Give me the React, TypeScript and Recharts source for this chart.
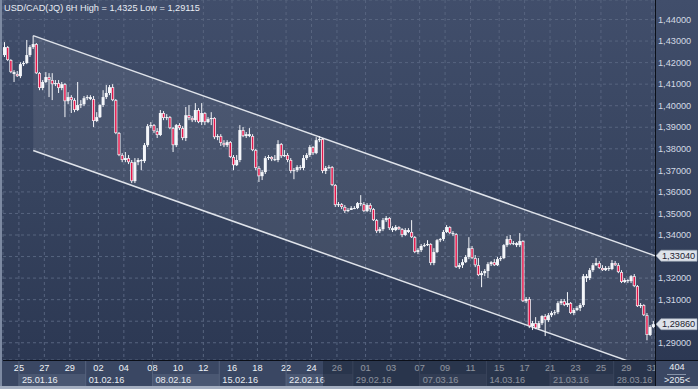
import React from 'react';
import { ComposedChart, Bar, Area, XAxis, YAxis, CartesianGrid, ReferenceLine } from 'recharts';

// ---- data (USD/CAD 6H candles) ----
const opens = [
  1.4235,1.4272,1.4212,1.4156,1.4147,1.4137,1.4193,1.4198,1.4235,1.4272,
  1.4286,1.4151,1.4082,1.4110,1.4133,1.4119,1.4100,1.4105,1.4082,1.4100,
  1.4021,1.4040,1.4026,1.3980,1.4003,1.4007,1.4035,1.4040,1.4031,1.3929,
  1.3947,1.4003,1.4040,1.4059,1.4086,1.4026,1.3873,1.3771,1.3748,1.3757,
  1.3738,1.3650,1.3738,1.3748,1.3743,1.3817,1.3905,1.3910,1.3882,1.3864,
  1.3966,1.3943,1.3947,1.3896,1.3817,1.3910,1.3896,1.3850,1.3956,1.3943,
  1.3933,1.3980,1.3924,1.3966,1.3924,1.3938,1.3943,1.3854,1.3859,1.3827,
  1.3817,1.3831,1.3762,1.3724,1.3748,1.3887,1.3859,1.3868,1.3859,1.3794,
  1.3711,1.3673,1.3692,1.3757,1.3762,1.3752,1.3748,1.3822,1.3766,1.3771,
  1.3748,1.3697,1.3701,1.3715,1.3711,1.3757,1.3771,1.3808,1.3780,1.3840,
  1.3845,1.3697,1.3711,1.3715,1.3632,1.3539,1.3543,1.3530,1.3511,1.3516,
  1.3525,1.3525,1.3548,1.3543,1.3511,1.3539,1.3520,1.3469,1.3418,1.3427,
  1.3469,1.3479,1.3432,1.3423,1.3437,1.3427,1.3400,1.3423,1.3414,1.3390,
  1.3321,1.3330,1.3349,1.3353,1.3358,1.3270,1.3321,1.3376,1.3381,1.3414,
  1.3437,1.3409,1.3404,1.3251,1.3260,1.3274,1.3298,1.3339,1.3293,1.3260,
  1.3214,1.3223,1.3233,1.3265,1.3274,1.3260,1.3288,1.3293,1.3353,1.3381,
  1.3358,1.3362,1.3353,1.3372,1.3093,1.3103,1.2977,1.2991,1.2968,1.2991,
  1.3024,1.3005,1.3028,1.3038,1.3042,1.3084,1.3093,1.3075,1.3084,1.3038,
  1.3052,1.3061,1.3075,1.3209,1.3200,1.3237,1.3260,1.3270,1.3247,1.3237,
  1.3247,1.3242,1.3270,1.3260,1.3228,1.3182,1.3191,1.3186,1.3209,1.3163,
  1.3070,1.3075,1.3028,1.2936,1.2973,
];
const highs = [
  1.4295,1.4277,1.4216,1.4165,1.4161,1.4202,1.4207,1.4305,1.4281,1.4325,
  1.4291,1.4156,1.4119,1.4156,1.4151,1.4151,1.4119,1.4119,1.4110,1.4105,
  1.4063,1.4049,1.4035,1.4110,1.4026,1.4045,1.4049,1.4049,1.4045,1.3970,
  1.4007,1.4072,1.4096,1.4096,1.4100,1.4031,1.3878,1.3780,1.3785,1.3771,
  1.3748,1.3757,1.3757,1.3752,1.3827,1.3915,1.3924,1.3915,1.3896,1.3980,
  1.3975,1.3961,1.3952,1.3901,1.3915,1.3919,1.3905,1.3994,1.4003,1.3952,
  1.4012,1.3989,1.4012,1.3970,1.3947,1.3970,1.3947,1.3868,1.3868,1.3840,
  1.3840,1.3836,1.3771,1.3771,1.3910,1.3901,1.3878,1.3896,1.3868,1.3799,
  1.3720,1.3701,1.3766,1.3771,1.3766,1.3771,1.3840,1.3827,1.3794,1.3780,
  1.3757,1.3711,1.3724,1.3724,1.3771,1.3780,1.3817,1.3813,1.3854,1.3859,
  1.3850,1.3720,1.3724,1.3720,1.3636,1.3553,1.3548,1.3539,1.3525,1.3534,
  1.3534,1.3553,1.3585,1.3553,1.3548,1.3548,1.3525,1.3474,1.3437,1.3479,
  1.3488,1.3483,1.3441,1.3446,1.3441,1.3432,1.3432,1.3432,1.3469,1.3395,
  1.3339,1.3358,1.3362,1.3376,1.3362,1.3339,1.3381,1.3386,1.3423,1.3446,
  1.3441,1.3418,1.3409,1.3270,1.3288,1.3307,1.3390,1.3349,1.3307,1.3293,
  1.3233,1.3242,1.3274,1.3279,1.3288,1.3298,1.3302,1.3358,1.3395,1.3400,
  1.3372,1.3367,1.3409,1.3376,1.3112,1.3112,1.3001,1.3019,1.3001,1.3028,
  1.3033,1.3038,1.3047,1.3052,1.3093,1.3103,1.3103,1.3135,1.3089,1.3061,
  1.3070,1.3084,1.3219,1.3219,1.3247,1.3270,1.3293,1.3279,1.3260,1.3256,
  1.3256,1.3284,1.3279,1.3270,1.3237,1.3200,1.3195,1.3214,1.3219,1.3168,
  1.3084,1.3079,1.3038,1.2982,1.3001,
];
const lows = [
  1.4226,1.4207,1.4151,1.4110,1.4133,1.4128,1.4184,1.4193,1.4226,1.4263,
  1.4147,1.4072,1.4072,1.4105,1.4040,1.4026,1.4091,1.4059,1.4072,1.3947,
  1.4007,1.3966,1.3970,1.3975,1.3989,1.3998,1.4026,1.4026,1.3901,1.3924,
  1.3943,1.3994,1.4031,1.4049,1.4021,1.3868,1.3766,1.3738,1.3738,1.3729,
  1.3641,1.3641,1.3724,1.3701,1.3734,1.3808,1.3896,1.3873,1.3850,1.3859,
  1.3933,1.3933,1.3891,1.3785,1.3808,1.3887,1.3840,1.3836,1.3933,1.3924,
  1.3924,1.3919,1.3910,1.3910,1.3919,1.3910,1.3845,1.3840,1.3813,1.3808,
  1.3808,1.3757,1.3701,1.3720,1.3738,1.3854,1.3850,1.3854,1.3789,1.3701,
  1.3646,1.3655,1.3683,1.3748,1.3743,1.3743,1.3738,1.3757,1.3762,1.3738,
  1.3687,1.3659,1.3692,1.3701,1.3701,1.3748,1.3762,1.3771,1.3775,1.3831,
  1.3687,1.3683,1.3706,1.3627,1.3530,1.3530,1.3520,1.3502,1.3506,1.3516,
  1.3520,1.3520,1.3534,1.3506,1.3506,1.3506,1.3465,1.3409,1.3409,1.3418,
  1.3460,1.3423,1.3414,1.3418,1.3423,1.3390,1.3395,1.3409,1.3386,1.3316,
  1.3311,1.3321,1.3344,1.3349,1.3260,1.3260,1.3316,1.3367,1.3372,1.3409,
  1.3404,1.3395,1.3247,1.3242,1.3247,1.3270,1.3288,1.3288,1.3251,1.3209,
  1.3158,1.3209,1.3200,1.3256,1.3256,1.3256,1.3279,1.3288,1.3344,1.3353,
  1.3353,1.3344,1.3344,1.3089,1.3084,1.2968,1.2959,1.2963,1.2959,1.2982,
  1.2931,1.2996,1.3019,1.3028,1.3033,1.3075,1.3070,1.3066,1.3033,1.3028,
  1.3047,1.3047,1.3066,1.3182,1.3191,1.3228,1.3256,1.3242,1.3233,1.3233,
  1.3233,1.3237,1.3256,1.3223,1.3177,1.3177,1.3177,1.3177,1.3158,1.3066,
  1.3061,1.3024,1.29115,1.2931,1.2968,
];
const closes = [
  1.4272,1.4212,1.4156,1.4147,1.4137,1.4193,1.4198,1.4235,1.4272,1.4286,
  1.4151,1.4082,1.4110,1.4133,1.4119,1.4100,1.4105,1.4082,1.4100,1.4021,
  1.4040,1.4026,1.3980,1.4003,1.4007,1.4035,1.4040,1.4031,1.3929,1.3947,
  1.4003,1.4040,1.4059,1.4086,1.4026,1.3873,1.3771,1.3748,1.3757,1.3738,
  1.3650,1.3738,1.3748,1.3743,1.3817,1.3905,1.3910,1.3882,1.3864,1.3966,
  1.3943,1.3947,1.3896,1.3817,1.3910,1.3896,1.3850,1.3956,1.3943,1.3933,
  1.3980,1.3924,1.3966,1.3924,1.3938,1.3943,1.3854,1.3859,1.3827,1.3817,
  1.3831,1.3762,1.3724,1.3748,1.3887,1.3859,1.3868,1.3859,1.3794,1.3711,
  1.3673,1.3692,1.3757,1.3762,1.3752,1.3748,1.3822,1.3766,1.3771,1.3748,
  1.3697,1.3701,1.3715,1.3711,1.3757,1.3771,1.3808,1.3780,1.3840,1.3845,
  1.3697,1.3711,1.3715,1.3632,1.3539,1.3543,1.3530,1.3511,1.3516,1.3525,
  1.3525,1.3548,1.3543,1.3511,1.3539,1.3520,1.3469,1.3418,1.3427,1.3469,
  1.3479,1.3432,1.3423,1.3437,1.3427,1.3400,1.3423,1.3414,1.3390,1.3321,
  1.3330,1.3349,1.3353,1.3358,1.3270,1.3321,1.3376,1.3381,1.3414,1.3437,
  1.3409,1.3404,1.3251,1.3260,1.3274,1.3298,1.3339,1.3293,1.3260,1.3214,
  1.3223,1.3233,1.3265,1.3274,1.3260,1.3288,1.3293,1.3353,1.3381,1.3358,
  1.3362,1.3353,1.3372,1.3093,1.3103,1.2977,1.2991,1.2968,1.2991,1.3024,
  1.3005,1.3028,1.3038,1.3042,1.3084,1.3093,1.3075,1.3084,1.3038,1.3052,
  1.3061,1.3075,1.3209,1.3200,1.3237,1.3260,1.3270,1.3247,1.3237,1.3247,
  1.3242,1.3270,1.3260,1.3228,1.3182,1.3191,1.3186,1.3209,1.3163,1.3070,
  1.3075,1.3028,1.2936,1.2973,1.2986,
];

// candle index where each labelled day begins
const dayTickIdx = [5,13,21,30,38,47,55,63,72,80,89,97,105,114,122,131,139,147,156,164,172,180,188,196,204];
const dayTickLabels = ['25','27','29','02','04','08','10','12','16','18','22','24','26','01','03','07','09','11','15','17','21','23','25','29','31'];
// candle index where each week begins
const weekStartIdx = [5,26,47,68,89,110,131,152,172,192];
const weekLabels = ['25.01.16','01.02.16','08.02.16','15.02.16','22.02.16','29.02.16','07.03.16','14.03.16','21.03.16','28.03.16'];
const priceTicks = [1.29,1.30,1.31,1.32,1.33,1.34,1.35,1.36,1.37,1.38,1.39,1.40,1.41,1.42,1.43,1.44];
// descending channel, defined by its two end points
const channelIdx = [9, 204.5];
const channelUpper = [1.4325, 1.3304];
const channelLower = [1.3792, 1.2771];
// price markers on the right scale (channel level, last price)
const markerPrices = [1.3304, 1.2986];

const N = opens.length;
const W = 698;
const H = 389;
const PLOT_W = 652;
const PX = PLOT_W / N;
const FONT = '"Liberation Sans", Arial, sans-serif';

const data = opens.map((o, i) => ({ i, open: o, high: highs[i], low: lows[i], close: closes[i] }));
const channelData = channelIdx.map((i, k) => ({ i, ch: [channelLower[k], channelUpper[k]] }));

const fmt = (v: number, d = 5) => v.toFixed(d).replace('.', ',');

const Candle = (props: any) => {
  const { x, y, width, height, payload } = props;
  if (x == null || y == null || !payload) return null;
  const { open, close, high, low } = payload;
  const top = Math.min(y, y + height);
  const bot = Math.max(y, y + height);
  const range = high - low;
  const k = range > 0 ? (bot - top) / range : 0;
  const cx = x + width / 2;
  const yO = top + (high - open) * k;
  const yC = top + (high - close) * k;
  const bTop = Math.min(yO, yC);
  const bH = Math.max(1, Math.abs(yC - yO));
  const up = close >= open;
  return (
    <g>
      <line x1={cx} x2={cx} y1={top} y2={bot} stroke="#f4f6fa" strokeWidth={1} />
      <rect x={cx - 1.5} y={bTop} width={3} height={bH} fill="#f4f6fa" />
      {!up && bH > 2 && (
        <rect x={cx - 0.75} y={bTop + 0.7} width={1.5} height={bH - 1.4} fill="#e3174a" />
      )}
    </g>
  );
};

const DayTick = (props: any) => {
  const { x, y, index } = props;
  return (
    <g>
      {index === 0 && (
        <defs>
          <clipPath id="axisClip">
            <rect x={0} y={0} width={655} height={H} />
          </clipPath>
        </defs>
      )}
      <text
        x={x}
        y={y + 7.5}
        dy="0.35em"
        textAnchor="middle"
        fontSize={9.2}
        fontFamily={FONT}
        fill="#f0f3f7"
        clipPath="url(#axisClip)"
      >
        {dayTickLabels[index]}
      </text>
    </g>
  );
};

const WeekTick = (props: any) => {
  const { x, y, index } = props;
  const k = weekStartIdx[index];
  const next = index + 1 < weekStartIdx.length ? weekStartIdx[index + 1] : N;
  const w = Math.min((next - k) * PX, 655 - x);
  const light = index % 2 === 0;
  return (
    <g>
      {light && <rect x={x} y={y + 1} width={w} height={12} fill="#4a5772" />}
      <line x1={x} x2={x} y1={y - 12} y2={y + 13} stroke="#56637e" strokeWidth={1} />
      <text x={x + 3} y={y + 7} dy="0.35em" fontSize={9.2} fontFamily={FONT} fill="#e8ecf2">
        {weekLabels[index]}
      </text>
    </g>
  );
};

const PriceTick = (props: any) => {
  const { x, y, payload } = props;
  // the price markers cover the scale label underneath them
  const covered = markerPrices.some((m) => Math.abs(m - payload.value) < 0.004);
  if (covered) return <g />;
  return (
    <text x={x + 3} y={y} dy="0.35em" fontSize={9.2} fontFamily={FONT} fill="#d3d9e4">
      {fmt(payload.value)}
    </text>
  );
};

const makeMarker = (price: number) => (p: any) => {
  const vb = p.viewBox || {};
  const x = (vb.x || 0) + (vb.width || 0);
  const y = vb.y || 0;
  const pts = `${x + 1},${y} ${x + 6},${y - 5.5} ${x + 42},${y - 5.5} ${x + 42},${y + 5.5} ${x + 6},${y + 5.5}`;
  return (
    <g>
      <polygon points={pts} fill="#dde2ea" stroke="#9ea7b6" strokeWidth={0.6} />
      <text x={x + 7} y={y} dy="0.35em" fontSize={9.2} fontFamily={FONT} fill="#1c2230">
        {fmt(price)}
      </text>
    </g>
  );
};

export default function App() {
  return (
    <div
      style={{
        position: 'absolute',
        left: 0,
        top: 0,
        width: W,
        height: H,
        overflow: 'hidden',
        background: '#3a4763',
        fontFamily: FONT,
      }}
    >
      {/* chart background gradient */}
      <div
        style={{
          position: 'absolute',
          left: 0,
          top: 0,
          width: W,
          height: 360,
          background: 'linear-gradient(to bottom, #414e6b 0%, #37445f 50%, #2c3853 100%)',
        }}
      />
      <div style={{ position: 'absolute', left: 0, top: 0 }}>
        <ComposedChart width={W} height={H} data={data} margin={{ top: 0, right: 0, bottom: 0, left: 3 }}>
          <CartesianGrid stroke="#57647f" strokeDasharray="3 3" />
          <XAxis
            dataKey="i"
            type="number"
            domain={[-0.5, N - 0.5]}
            allowDataOverflow
            ticks={dayTickIdx.map((k) => k - 0.5)}
            interval={0}
            tickLine={false}
            axisLine={false}
            tickSize={0}
            tickMargin={0}
            height={13}
            tick={(p: any) => <DayTick {...p} />}
          />
          <XAxis
            xAxisId="week"
            dataKey="i"
            type="number"
            domain={[-0.5, N - 0.5]}
            allowDataOverflow
            ticks={weekStartIdx.map((k) => k - 0.5)}
            interval={0}
            tickLine={false}
            axisLine={false}
            tickSize={0}
            tickMargin={0}
            height={16}
            tick={(p: any) => <WeekTick {...p} />}
          />
          <YAxis
            orientation="right"
            type="number"
            width={43}
            domain={[1.282, 1.44905]}
            allowDataOverflow
            ticks={priceTicks}
            interval={0}
            tickLine={false}
            axisLine={false}
            tickSize={0}
            tickMargin={0}
            tick={(p: any) => <PriceTick {...p} />}
          />
          <Area
            data={channelData}
            dataKey="ch"
            type="linear"
            stroke="#dfe3ea"
            strokeWidth={1.5}
            fill="#ffffff"
            fillOpacity={0.08}
            dot={false}
            activeDot={false}
            isAnimationActive={false}
          />
          <Bar
            dataKey={(d: any) => [d.low, d.high]}
            barSize={3}
            shape={(p: any) => <Candle {...p} />}
            isAnimationActive={false}
          />
          {markerPrices.map((mp) => (
            <ReferenceLine key={mp} y={mp} stroke="none" label={makeMarker(mp)} />
          ))}
        </ComposedChart>
      </div>
      {/* title */}
      <div
        style={{
          position: 'absolute',
          left: 4,
          top: 3,
          fontSize: 9.2,
          lineHeight: '10px',
          color: '#e8ecf3',
          whiteSpace: 'nowrap',
        }}
      >
        USD/CAD(JQ) 6H High = 1,4325 Low = 1,29115
      </div>
      {/* dimmed part of time axis */}
      <div
        style={{
          position: 'absolute',
          left: 323,
          top: 361,
          width: 332,
          height: 25,
          background: 'rgba(22,30,48,0.45)',
        }}
      />
      {/* frame lines */}
      <div style={{ position: 'absolute', left: 3, top: 360, width: W - 3, height: 1, background: '#0b0f18' }} />
      <div style={{ position: 'absolute', left: 655, top: 0, width: 1, height: 386, background: '#0b0f18' }} />
      <div style={{ position: 'absolute', left: 0, top: 0, width: 2, height: H, background: '#7d8aa2' }} />
      <div style={{ position: 'absolute', left: 0, top: 386, width: W, height: 3, background: '#a4aec0' }} />
      {/* bottom-right info */}
      <div
        style={{
          position: 'absolute',
          left: 656,
          top: 362,
          width: 42,
          textAlign: 'center',
          fontSize: 9.2,
          lineHeight: '11px',
          color: '#e8ecf2',
        }}
      >
        404
      </div>
      <div style={{ position: 'absolute', left: 667, top: 374, width: 19, height: 1, background: '#8793a8' }} />
      <div
        style={{
          position: 'absolute',
          left: 656,
          top: 375,
          width: 42,
          textAlign: 'center',
          fontSize: 9.2,
          lineHeight: '11px',
          color: '#e8ecf2',
        }}
      >
        &gt;205&lt;
      </div>
    </div>
  );
}
